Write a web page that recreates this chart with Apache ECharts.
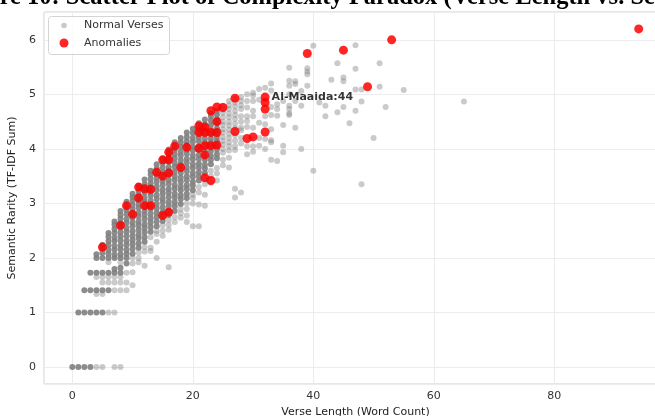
<!DOCTYPE html>
<html>
<head>
<meta charset="utf-8">
<script src="https://cdn.jsdelivr.net/npm/echarts@6/dist/echarts.min.js"></script>
<style>
  html, body { margin: 0; padding: 0; background: #fff; }
  #chart { width: 655px; height: 416px; }
</style>
</head>
<body>
<div id="chart"></div>
<script>
// Verse length (word count) vs. summed TF-IDF score.
// Heavily populated word-count columns: [wordCount, [scores...]]
const denseColumns = [
  [0, [0]],
  [1, [0, 1]],
  [2, [0, 1, 1.41]],
  [3, [0, 1, 1.41, 1.73]],
  [4, [1, 1.41, 1.73, 2.0, 2.07]],
  [5, [1, 1.41, 1.73, 2.0, 2.09, 2.17, 2.24]],
  [6, [1.41, 1.73, 2.0, 2.08, 2.15, 2.24, 2.31, 2.39, 2.46]],
  [7, [1.73, 1.8, 2.0, 2.06, 2.15, 2.22, 2.31, 2.37, 2.46, 2.53, 2.61, 2.67]],
  [8, [1.73, 1.82, 2.0, 2.07, 2.16, 2.23, 2.32, 2.4, 2.47, 2.56, 2.63, 2.72, 2.79, 2.86]],
  [9, [1.9, 2.0, 2.08, 2.15, 2.24, 2.31, 2.4, 2.48, 2.55, 2.64, 2.71, 2.8, 2.88, 2.95, 3.03]],
  [10, [2.08, 2.17, 2.25, 2.33, 2.41, 2.49, 2.58, 2.65, 2.74, 2.81, 2.9, 2.97, 3.05, 3.12, 3.18]],
  [11, [2.19, 2.27, 2.36, 2.43, 2.52, 2.6, 2.67, 2.76, 2.83, 2.92, 2.99, 3.07, 3.15, 3.23, 3.32]],
  [12, [2.3, 2.38, 2.47, 2.55, 2.62, 2.71, 2.79, 2.86, 2.95, 3.03, 3.1, 3.19, 3.27, 3.35, 3.44]],
  [13, [2.48, 2.57, 2.65, 2.73, 2.81, 2.9, 2.97, 3.05, 3.14, 3.21, 3.3, 3.37, 3.45, 3.53, 3.6]],
  [14, [2.58, 2.67, 2.75, 2.83, 2.91, 2.99, 3.08, 3.15, 3.24, 3.31, 3.4, 3.47, 3.55, 3.64, 3.72]],
  [15, [2.68, 2.77, 2.85, 2.93, 3.02, 3.09, 3.18, 3.25, 3.34, 3.41, 3.5, 3.57, 3.66, 3.74, 3.82]],
  [16, [2.79, 2.87, 2.96, 3.03, 3.12, 3.2, 3.27, 3.36, 3.43, 3.52, 3.6, 3.67, 3.76, 3.84, 3.92, 3.99]],
  [17, [2.86, 2.95, 3.02, 3.11, 3.18, 3.27, 3.34, 3.43, 3.5, 3.58, 3.67, 3.74, 3.83, 3.9, 3.98, 4.05, 4.12]],
  [18, [2.99, 3.08, 3.15, 3.24, 3.31, 3.4, 3.47, 3.56, 3.63, 3.72, 3.79, 3.88, 3.95, 4.04, 4.12, 4.2]],
  [19, [3.1, 3.18, 3.27, 3.34, 3.43, 3.5, 3.59, 3.66, 3.75, 3.82, 3.91, 3.98, 4.07, 4.14, 4.22, 4.3]],
  [20, [3.24, 3.33, 3.4, 3.49, 3.56, 3.65, 3.72, 3.81, 3.88, 3.97, 4.04, 4.13, 4.2, 4.29, 4.37]],
  [21, [3.42, 3.5, 3.57, 3.66, 3.73, 3.82, 3.89, 3.98, 4.05, 4.14, 4.21, 4.3, 4.38, 4.47]],
  [22, [3.56, 3.64, 3.71, 3.8, 3.87, 3.96, 4.03, 4.12, 4.19, 4.28, 4.36, 4.45, 4.54]],
  [23, [3.72, 3.8, 3.87, 3.96, 4.03, 4.12, 4.19, 4.28, 4.35, 4.44, 4.52, 4.6, 4.65]],
  [24, [3.83, 3.9, 3.99, 4.06, 4.15, 4.22, 4.31, 4.38, 4.47, 4.55, 4.63, 4.7]]
];

// Thinly populated verses: [wordCount, [scores...]]
const sparseColumns = [
  [4, [0, 1.34, 1.65]],
  [5, [0, 1.34, 1.55, 1.65]],
  [6, [1, 1.55, 1.65, 1.92]],
  [7, [0, 1, 1.41, 1.55, 1.65]],
  [8, [0, 1.41, 1.55, 1.65, 1.92]],
  [9, [1.41, 1.55, 1.73]],
  [10, [1.5, 1.74, 1.9, 2.0]],
  [11, [1.92, 2.0, 2.1]],
  [12, [1.86, 2.12, 2.2]],
  [13, [2.13, 2.19, 2.38]],
  [14, [2.0, 2.3, 2.44, 2.5]],
  [15, [2.41, 2.5, 2.6]],
  [16, [1.83, 2.52, 2.61, 2.7]],
  [17, [2.66, 2.75]],
  [18, [2.74, 2.82, 2.9]],
  [19, [2.66, 2.78, 2.9, 3.0]],
  [20, [2.58, 3.0, 3.1, 3.16]],
  [21, [2.58, 2.98, 3.2, 3.3]],
  [22, [2.96, 3.16, 3.35, 3.45]],
  [23, [3.38, 3.5, 3.6]],
  [24, [3.42, 3.55, 3.65]],
  [25, [3.7, 3.8, 3.93, 4.0, 4.08, 4.15, 4.22, 4.3, 4.36, 4.44, 4.5, 4.58, 4.66, 4.72, 4.79]],
  [26, [3.66, 3.84, 3.97, 4.05, 4.12, 4.2, 4.28, 4.35, 4.43, 4.5, 4.58, 4.65, 4.73, 4.8, 4.88]],
  [27, [3.11, 3.27, 3.98, 4.05, 4.15, 4.25, 4.38, 4.46, 4.55, 4.62, 4.7, 4.78, 4.85, 4.92]],
  [28, [3.2, 4.1, 4.2, 4.34, 4.39, 4.5, 4.6, 4.73, 4.8, 4.88, 4.95]],
  [29, [3.9, 4.05, 4.4, 4.51, 4.6, 4.76, 4.88, 5.0]],
  [30, [3.95, 4.05, 4.39, 4.6, 4.7, 4.88, 4.98, 5.03]],
  [31, [4.06, 4.2, 4.48, 4.9, 5.1]],
  [32, [4.0, 4.18, 4.45, 4.6, 5.12]],
  [33, [3.8, 4.12, 4.16, 4.36, 4.62, 4.77, 5.07, 5.2]],
  [34, [3.78, 4.61, 4.73, 4.82]],
  [35, [3.94, 4.06, 4.44, 4.88]],
  [36, [4.62, 4.65, 4.73, 4.79, 5.0, 5.16, 5.25, 5.49]],
  [37, [4.39, 4.88, 5.19, 5.24]],
  [38, [4.0, 4.79, 5.06]],
  [39, [5.16, 5.37, 5.42, 5.48]],
  [40, [3.6, 5.89]],
  [41, [4.85]],
  [42, [4.6, 4.79]],
  [43, [5.27]],
  [44, [4.67, 5.57]],
  [45, [4.77, 5.24, 5.31]],
  [46, [4.47]],
  [47, [4.7, 5.09, 5.47, 5.9]],
  [48, [3.35, 4.87, 5.09]],
  [50, [4.2]],
  [51, [5.14, 5.57]],
  [52, [4.77]],
  [55, [5.08]],
  [65, [4.87]]
];

// Flagged verses: [wordCount, score]
const anomalies = [
  [5, 2.2], [8, 2.6], [9, 2.96], [10, 2.8], [11, 3.1], [11, 3.3], [12, 2.96], [12, 3.27],
  [13, 2.96], [13, 3.26], [14, 3.57], [15, 2.78], [15, 3.5], [15, 3.8], [16, 2.84], [16, 3.56],
  [16, 3.8], [16, 3.94], [17, 4.05], [18, 3.66], [19, 4.03], [21, 4.01], [21, 4.3], [21, 4.42],
  [22, 3.47], [22, 3.89], [22, 4.06], [22, 4.3], [22, 4.4], [23, 3.42], [23, 4.06], [23, 4.3],
  [23, 4.7], [24, 4.07], [24, 4.3], [24, 4.5], [24, 4.77], [25, 4.76], [27, 4.32], [27, 4.93],
  [29, 4.19], [30, 4.22], [32, 4.31], [32, 4.73], [32, 4.85], [32, 4.95], [39, 5.75], [45, 5.81],
  [49, 5.14], [53, 6.0], [94, 6.2]
];

// Annotated verse
const annotatedName = 'Al-Maaida:44';
const annotatedPoint = [32, 4.95];

const titleText = 'Figure 10: Scatter Plot of Complexity Paradox (Verse Length vs. Semantic Rarity)';
const seriesNames = ['Normal Verses', 'Anomalies'];
const axisNames = { x: 'Verse Length (Word Count)', y: 'Semantic Rarity (TF-IDF Sum)' };

function flatten(columns) {
  const out = [];
  columns.forEach(([w, ys]) => ys.forEach(y => out.push([w, y])));
  return out;
}

const FONT = '"DejaVu Sans", sans-serif';
const GRAY = '#808080';
const RED = '#ff0000';

const normalData = flatten(denseColumns).map(p => ({ value: p, itemStyle: { opacity: 0.9 } }))
  .concat(flatten(sparseColumns).map(p => ({ value: p })));

const anomalyData = anomalies.map(p => {
  if (p[0] === annotatedPoint[0] && p[1] === annotatedPoint[1]) {
    return {
      value: p,
      label: {
        show: true, position: 'right', distance: 2, formatter: annotatedName,
        fontFamily: FONT, fontWeight: 'bold', fontSize: 11, color: '#111'
      }
    };
  }
  return { value: p };
});

const chart = echarts.init(document.getElementById('chart'), null, { renderer: 'canvas' });

const axisLabelStyle = { color: '#333', fontSize: 11, fontFamily: FONT };

chart.setOption({
  animation: false,
  backgroundColor: '#fff',
  grid: {
    left: 44, right: -12, top: 12, bottom: 32,
    outerBoundsMode: 'none', containLabel: false,
    show: true, borderColor: '#cfcfcf', borderWidth: 1, backgroundColor: 'transparent'
  },
  xAxis: {
    type: 'value', min: -4.7, max: 98.7, splitNumber: 5,
    axisLine: { show: false }, axisTick: { show: false },
    splitLine: { lineStyle: { color: '#ececec', width: 1 } },
    axisLabel: Object.assign({ margin: 7, showMinLabel: false, showMaxLabel: false }, axisLabelStyle),
    name: axisNames.x, nameLocation: 'middle', nameGap: 21,
    nameTextStyle: { color: '#222', fontSize: 11, fontFamily: FONT }
  },
  yAxis: {
    type: 'value', min: -0.31, max: 6.51, splitNumber: 5,
    axisLine: { show: false }, axisTick: { show: false },
    splitLine: { lineStyle: { color: '#ececec', width: 1 } },
    axisLabel: Object.assign({ margin: 8, showMinLabel: false, showMaxLabel: false }, axisLabelStyle),
    name: axisNames.y, nameLocation: 'middle', nameGap: 18,
    nameTextStyle: { color: '#222', fontSize: 11, fontFamily: FONT }
  },
  legend: { show: false },
  graphic: [
    // legend frame and entries
    {
      type: 'rect', z: 30, silent: true,
      shape: { x: 48.5, y: 16.5, width: 121, height: 38, r: 3 },
      style: { fill: 'rgba(255,255,255,0.85)', stroke: '#d4d4d4', lineWidth: 1 }
    },
    {
      type: 'circle', z: 31, silent: true,
      shape: { cx: 64, cy: 25.5, r: 2.8 },
      style: { fill: GRAY, opacity: 0.42 }
    },
    {
      type: 'text', z: 31, silent: true, x: 84, y: 25.5,
      style: { text: seriesNames[0], fill: '#333', font: '11px "DejaVu Sans", sans-serif', textVerticalAlign: 'middle' }
    },
    {
      type: 'circle', z: 31, silent: true,
      shape: { cx: 64, cy: 43, r: 4.5 },
      style: { fill: RED, opacity: 0.85 }
    },
    {
      type: 'text', z: 31, silent: true, x: 84, y: 43,
      style: { text: seriesNames[1], fill: '#333', font: '11px "DejaVu Sans", sans-serif', textVerticalAlign: 'middle' }
    },
    // figure title, wider than the canvas
    {
      type: 'text', z: 40, silent: true, x: -48, y: -2.5,
      style: {
        text: titleText, fill: '#000', textAlign: 'left', textVerticalAlign: 'middle',
        font: 'bold 24.5px "Liberation Serif", "Times New Roman", serif'
      }
    }
  ],
  series: [
    {
      name: seriesNames[0], type: 'scatter', symbol: 'circle', symbolSize: 6,
      itemStyle: { color: GRAY, opacity: 0.42 },
      data: normalData, z: 2
    },
    {
      name: seriesNames[1], type: 'scatter', symbol: 'circle', symbolSize: 9,
      itemStyle: { color: RED, opacity: 0.85 },
      data: anomalyData, z: 3
    }
  ]
});
</script>
</body>
</html>
